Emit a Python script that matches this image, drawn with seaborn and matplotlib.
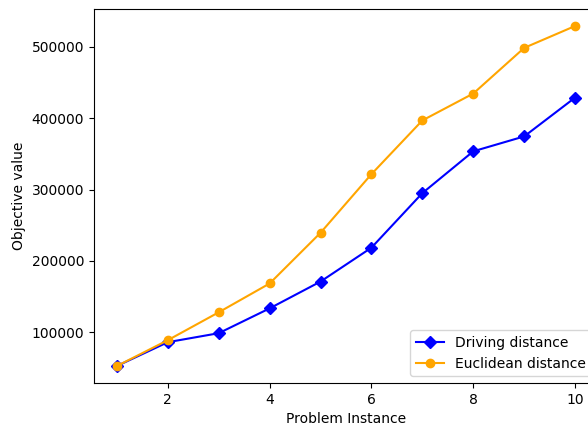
import matplotlib
matplotlib.use("Agg")
import matplotlib.pyplot as plt
import seaborn as sns
import pandas as pd

instances = [1, 2, 3, 4, 5, 6, 7, 8, 9, 10]
driving = [52600, 86000, 98600, 133400, 171000, 218500, 295000, 353600, 374500, 428900]
euclidean = [52600, 88800, 127900, 168300, 239400, 321600, 396900, 434600, 498600, 529300]

df = pd.DataFrame({"instance": instances, "driving": driving, "euclidean": euclidean})

fig = plt.figure(figsize=(5.88, 4.30), dpi=100)
ax = fig.add_axes([94 / 588, 47 / 430, 504 / 588, 374 / 430])

sns.lineplot(data=df, x="instance", y="driving", ax=ax, color="blue", marker="D",
             markersize=6, markeredgecolor="blue", markeredgewidth=1, linewidth=1.5,
             label="Driving distance")
sns.lineplot(data=df, x="instance", y="euclidean", ax=ax, color="orange", marker="o",
             markersize=6, markeredgecolor="orange", markeredgewidth=1, linewidth=1.5,
             label="Euclidean distance")

ax.set_xlabel("Problem Instance")
ax.set_ylabel("Objective value")
ax.legend(loc="lower right")

fig.savefig("out.png", dpi=100)
